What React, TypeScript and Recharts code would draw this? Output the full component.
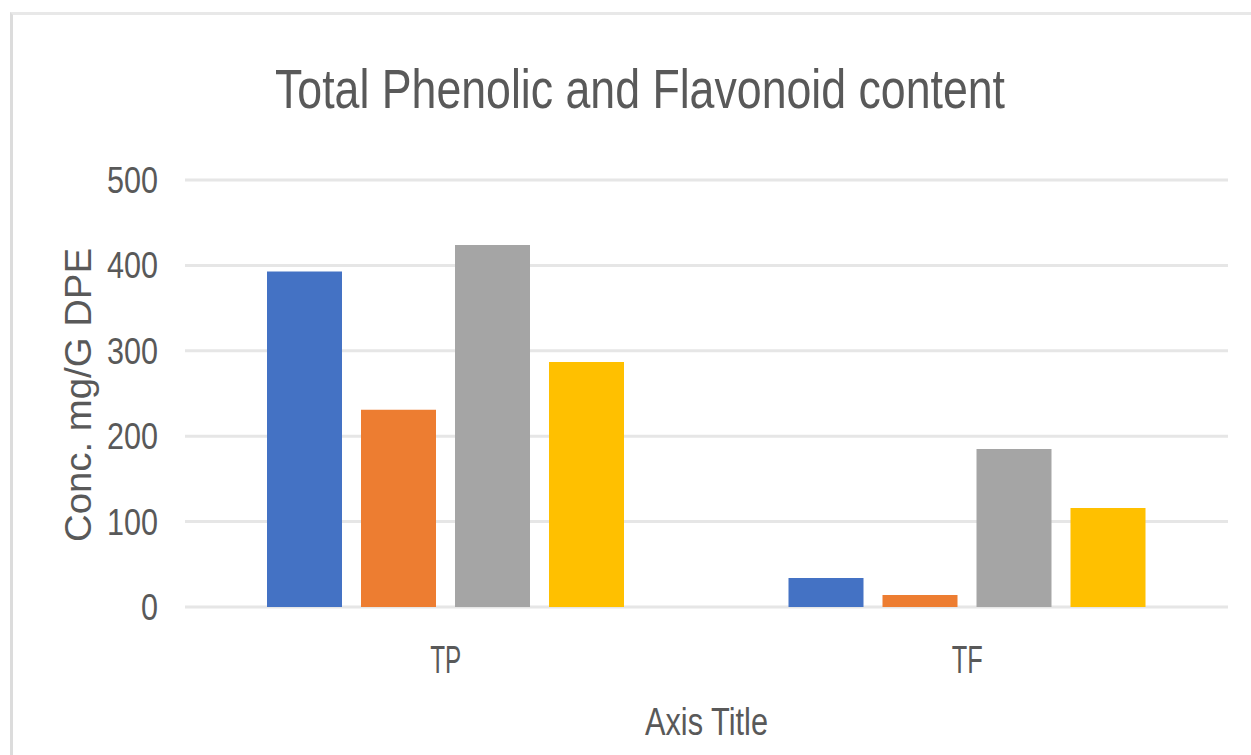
import React from 'react';
import { BarChart, Bar, XAxis, YAxis, CartesianGrid, Label } from 'recharts';

const categories = ['TP', 'TF'];
const series1 = [393, 34];
const series2 = [231, 14];
const series3 = [424, 185];
const series4 = [287, 116];
const seriesNames = ['Series1', 'Series2', 'Series3', 'Series4'];
const seriesColors = ['#4472C4', '#ED7D31', '#A5A5A5', '#FFC000'];
const yTicks = [0, 100, 200, 300, 400, 500];
const titleText = 'Total Phenolic and Flavonoid content';
const yLabelText = 'Conc. mg/G DPE';
const xLabelText = 'Axis Title';

const data = categories.map((c, i) => ({
  category: c,
  s1: series1[i],
  s2: series2[i],
  s3: series3[i],
  s4: series4[i],
}));

const TEXT = '#595959';
const FONT = 'Liberation Sans, Arial, sans-serif';

const YTick = (props: any) => {
  const { x, y, payload } = props;
  const s = String(payload.value);
  return (
    <text x={x} y={y + 13} textAnchor="end" fontSize={37} fontFamily={FONT} fill={TEXT}
      textLength={17 * s.length} lengthAdjust="spacingAndGlyphs">{s}</text>
  );
};

const XTick = (props: any) => {
  const { x, y, payload } = props;
  const s = String(payload.value);
  return (
    <text x={x} y={y + 66} textAnchor="middle" fontSize={39} fontFamily={FONT} fill={TEXT}
      textLength={31} lengthAdjust="spacingAndGlyphs">{s}</text>
  );
};

const XLabel = (props: any) => {
  const vb = props.viewBox || {};
  const cx = vb.x + vb.width / 2;
  return (
    <text x={cx} y={735} textAnchor="middle" fontSize={38} fontFamily={FONT} fill={TEXT}
      textLength={123} lengthAdjust="spacingAndGlyphs">{xLabelText}</text>
  );
};

const YLabel = () => (
  <text x={91} y={395} transform="rotate(-90, 91, 395)" textAnchor="middle" fontSize={36}
    fontFamily={FONT} fill={TEXT} textLength={294} lengthAdjust="spacingAndGlyphs">{yLabelText}</text>
);

export default function App() {
  const keys = ['s1', 's2', 's3', 's4'];
  return (
    <div style={{ position: 'absolute', left: 0, top: 0, width: 1251, height: 755, overflow: 'hidden', background: '#fff' }}>
      <div style={{ position: 'absolute', left: 10, top: 12, width: 1300, height: 800, borderTop: '3px solid #E8E8E8', borderLeft: '3px solid #DCDCDC' }} />
      <BarChart width={1251} height={755} data={data} margin={{ top: 180, right: 23, left: 0, bottom: 0 }}
        barSize={75} barGap={19}>
        <CartesianGrid vertical={false} stroke="#E6E6E6" strokeWidth={3} />
        <XAxis dataKey="category" height={148} axisLine={false} tickLine={false} tickSize={0} tickMargin={0}
          tick={<XTick />} interval={0}>
          <Label content={<XLabel />} />
        </XAxis>
        <YAxis width={185} domain={[0, 500]} ticks={yTicks} axisLine={false} tickLine={false} tickSize={0}
          tickMargin={27} tick={<YTick />} interval={0}>
          <Label content={<YLabel />} />
        </YAxis>
        {keys.map((k, i) => (
          <Bar key={k} dataKey={k} name={seriesNames[i]} fill={seriesColors[i]} isAnimationActive={false} />
        ))}
      </BarChart>
      <svg width={1251} height={755} style={{ position: 'absolute', left: 0, top: 0, pointerEvents: 'none' }}>
        <text x={640} y={108} textAnchor="middle" fontSize={56} fontFamily={FONT} fill={TEXT}
          textLength={730} lengthAdjust="spacingAndGlyphs">{titleText}</text>
      </svg>
    </div>
  );
}
